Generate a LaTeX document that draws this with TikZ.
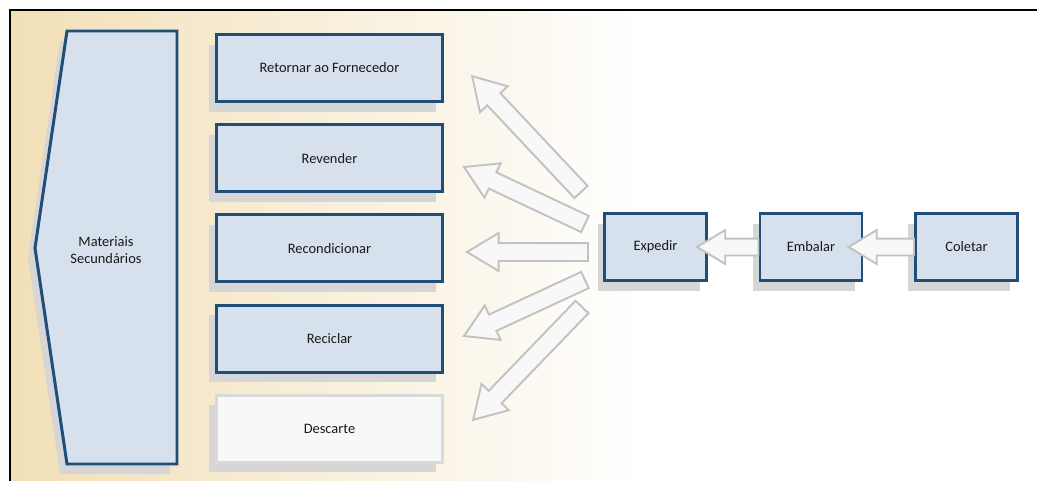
\documentclass[tikz,border=0pt]{standalone}
\usepackage{fontspec}
\setmainfont{Carlito}
\usetikzlibrary{positioning,calc,shapes.arrows,shadows}

\definecolor{boxblue}{HTML}{D7E0ED}
\definecolor{edgeblue}{HTML}{1F4E79}
\definecolor{bgtan}{HTML}{F2DFB6}
\definecolor{shadowgray}{HTML}{D6D6D6}
\definecolor{arrowedge}{HTML}{C2C2C2}
\definecolor{arrowfill}{HTML}{F8F8F8}

\tikzset{
  stage/.style={draw=edgeblue, fill=boxblue, line width=1.7pt,
    minimum width=45.2mm, minimum height=13.4mm, inner sep=0pt,
    font=\fontsize{8.2}{9.5}\selectfont, text=black!90,
    general shadow={fill=shadowgray, shadow xshift=-1.4mm, shadow yshift=-2mm}},
  step box/.style={stage, minimum width=20.4mm},
  discard/.style={stage, draw=black!15, fill=arrowfill},
  flowarrow/.style={single arrow, draw=arrowedge, fill=arrowfill, line width=1.1pt,
    inner xsep=0pt, inner ysep=1.6mm, outer sep=0pt, anchor=tail,
    single arrow head extend=2mm, single arrow tip angle=62},
  smallarrow/.style={flowarrow, inner ysep=1.5mm, single arrow head extend=1.7mm}
}

\begin{document}
\begin{tikzpicture}[x=0.2mm, y=-0.2mm]
  \useasboundingbox (0,0) rectangle (1037,481);

  % Background fading from tan to white
  \fill[white] (0,0) rectangle (1037,481);
  \shade[left color=bgtan, right color=white] (10,10) rectangle (640,481);

  % Frame
  \draw[line width=1.7pt] (10,481) -- (10,10) -- (1037,10);

  % Materiais secundarios (draw shadow FIRST)
  \fill[shadowgray, shift={(-7,10)}] (67,31) -- (177,31) -- (177,464) -- (67,464) -- (35,248) -- cycle;
  \draw[edgeblue, fill=boxblue, line width=1.7pt] (67,31) -- (177,31) -- (177,464) -- (67,464) -- (35,248) -- cycle;
  \node[align=center, font=\fontsize{8.2}{9.5}\selectfont, text=black!90] (mat) at (106,250) {Materiais\\Secundários};

  % Destinations
  \node[stage] (ret) at (329.5,68) {Retornar ao Fornecedor};
  \node[stage, below=4.05mm of ret] (rev) {Revender};
  \node[stage, below=4.05mm of rev] (rec) {Recondicionar};
  \node[stage, below=4.05mm of rec] (ricl) {Reciclar};
  \node[discard, below=4.05mm of ricl] (desc) {Descarte};

  % Process chain
  \node[step box] (exp) at (655.5,247) {Expedir};
  \node[step box, right=10.1mm of exp] (emb) {Embalar};
  \node[step box, right=10.1mm of emb] (col) {Coletar};

  % Fan of block arrows
  \coordinate (t1) at (581,192); \coordinate (h1) at (472,76);
  \coordinate (t2) at (585,224); \coordinate (h2) at (464,167);
  \coordinate (t3) at (588,252); \coordinate (h3) at (467,252);
  \coordinate (t4) at (585,280); \coordinate (h4) at (464,336);
  \coordinate (t5) at (582,307); \coordinate (h5) at (473,420);
  \foreach \s/\t in {t1/h1, t2/h2, t3/h3, t4/h4, t5/h5}
    \path let \p1=($(\t)-(\s)$), \n1={veclen(\x1,\y1)}, \n2={atan2(\y1,\x1)} in
      node[flowarrow, minimum height=\n1, rotate=\n2] at (\s) {};

  % Arrows along the chain
  \coordinate (e1) at ($(exp.east)+(-11,0)$);
  \coordinate (e2) at ($(emb.east)+(-15,0)$);
  \foreach \s/\t in {emb.west/e1, col.west/e2}
    \path let \p1=($(\t)-(\s)$), \n1={veclen(\x1,\y1)}, \n2={atan2(\y1,\x1)} in
      node[smallarrow, minimum height=\n1, rotate=\n2] at (\s) {};

\end{tikzpicture}
\end{document}
